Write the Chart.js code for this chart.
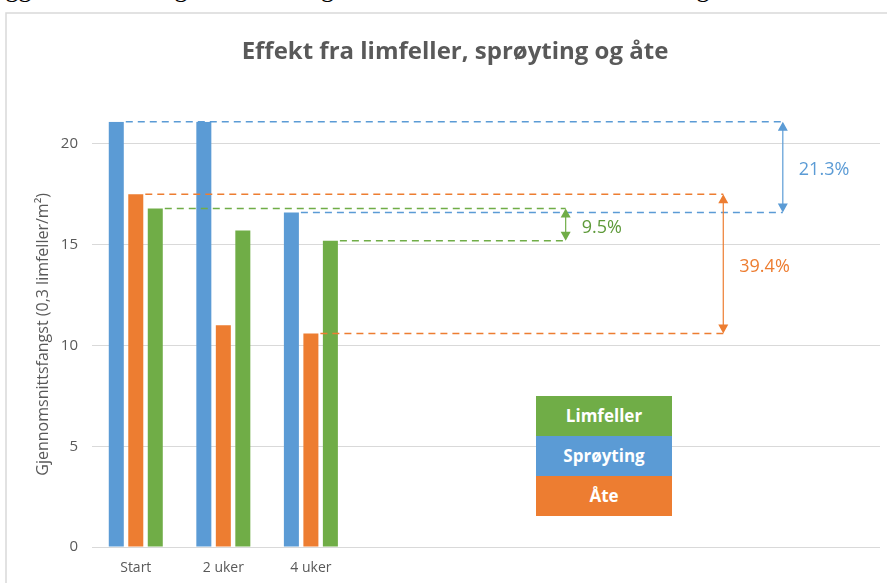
<!DOCTYPE html>
<html>
<head>
<meta charset="utf-8">
<script src="https://cdn.jsdelivr.net/npm/chart.js@4.4.0/dist/chart.umd.min.js"></script>
<style>
  html, body { margin: 0; padding: 0; background: #fff; overflow: hidden; }
  #page { width: 887px; height: 583px; position: relative; overflow: hidden; }
  #above { position: absolute; left: 0; top: 0; width: 887px; height: 10px; overflow: hidden; }
  #above span { position: absolute; left: -6px; top: -26px; font: 26px "Liberation Serif", serif; white-space: nowrap; color: #000; }
  #wrap { position: absolute; left: 0; top: 0; width: 887px; height: 583px; }
  #key { position: absolute; left: 536px; top: 396px; width: 136px; }
  #key div { height: 40px; text-align: center; color: #fff; font: bold 17px "Open Sans", sans-serif; line-height: 40px; }
</style>
</head>
<body>
<div id="page">
<div id="above"><span>egg er det mer begrensede muligheter for å ha kontroll med teknologisk</span></div>
<div id="wrap"><canvas id="chart" width="887" height="583"></canvas></div>
<div id="key">
  <div style="background:#70AD47">Limfeller</div>
  <div style="background:#5B9BD5">Sprøyting</div>
  <div style="background:#ED7D31">Åte</div>
</div>
</div>
<script>
// categories (the empty ones keep the plot wide like in the original)
const categories = ['Start', '2 uker', '4 uker', '', '', '', '', '', ''];

// mean catch per series
const sproyting = [21.1, 21.1, 16.6];
const aate = [17.5, 11.0, 10.6];
const limfeller = [16.8, 15.7, 15.2];

const yTicks = [0, 5, 10, 15, 20];

// reduction start -> 4 uker, per dataset index: arrow position in category units, label
const arrowAt = [7.39, 6.71, 4.91];
const arrowLabels = ['21.3%', '39.4%', '9.5%'];

const colors = ['#5B9BD5', '#ED7D31', '#70AD47'];
const labelColors = ['#5B9BD5', '#ED7D31', '#5E9A3A'];

// outer chart border (only left and top are inside the picture)
const framePlugin = {
  id: 'frame',
  beforeDraw(chart) {
    const ctx = chart.ctx;
    ctx.save();
    ctx.strokeStyle = '#d9d9d9';
    ctx.lineWidth = 1.5;
    ctx.beginPath();
    ctx.moveTo(6, chart.height);
    ctx.lineTo(6, 13);
    ctx.lineTo(chart.width, 13);
    ctx.stroke();
    ctx.restore();
  }
};

// dashed guide lines + double arrows
const reductionPlugin = {
  id: 'reduction',
  afterDatasetsDraw(chart) {
    const ctx = chart.ctx;
    const x = chart.scales.x, y = chart.scales.y;
    chart.data.datasets.forEach((ds, i) => {
      const meta = chart.getDatasetMeta(i);
      const ax = x.getPixelForValue(arrowAt[i]);
      const y1 = y.getPixelForValue(ds.data[0]);
      const y2 = y.getPixelForValue(ds.data[2]);
      const b1 = meta.data[0], b2 = meta.data[2];

      ctx.save();
      ctx.strokeStyle = colors[i];
      ctx.lineWidth = 1.5;
      ctx.setLineDash([7, 5]);
      ctx.beginPath();
      ctx.moveTo(b1.x + b1.width / 2 + 2, y1);
      ctx.lineTo(ax, y1);
      ctx.moveTo(b2.x + b2.width / 2 + 2, y2);
      ctx.lineTo(ax, y2);
      ctx.stroke();

      // arrow
      ctx.setLineDash([]);
      ctx.lineWidth = 1.2;
      ctx.beginPath();
      ctx.moveTo(ax, y1 + 8);
      ctx.lineTo(ax, y2 - 8);
      ctx.stroke();
      ctx.fillStyle = colors[i];
      ctx.beginPath();
      ctx.moveTo(ax, y1);
      ctx.lineTo(ax - 5, y1 + 9);
      ctx.lineTo(ax + 5, y1 + 9);
      ctx.closePath();
      ctx.moveTo(ax, y2);
      ctx.lineTo(ax - 5, y2 - 9);
      ctx.lineTo(ax + 5, y2 - 9);
      ctx.closePath();
      ctx.fill();

      ctx.font = '18px "Open Sans", sans-serif';
      ctx.fillStyle = labelColors[i];
      ctx.textBaseline = 'middle';
      ctx.fillText(arrowLabels[i], ax + 16, (y1 + y2) / 2 + 3);
      ctx.restore();
    });
  }
};

new Chart(document.getElementById('chart'), {
  type: 'bar',
  data: {
    labels: categories,
    datasets: [
      { label: 'Sprøyting', data: sproyting, backgroundColor: colors[0] },
      { label: 'Åte', data: aate, backgroundColor: colors[1] },
      { label: 'Limfeller', data: limfeller, backgroundColor: colors[2] }
    ]
  },
  options: {
    responsive: false,
    animation: false,
    categoryPercentage: 0.668,
    barPercentage: 0.77,
    layout: { padding: { left: 30, right: 7, top: 0, bottom: 0 } },
    plugins: {
      legend: { display: false },
      tooltip: { enabled: false },
      title: {
        display: true,
        text: 'Effekt fra limfeller, sprøyting og åte',
        color: '#595959',
        font: { family: 'Open Sans', size: 24, weight: 'bold' },
        padding: { top: 38, bottom: 55 }
      }
    },
    scales: {
      x: {
        grid: { display: false, drawTicks: false },
        border: { display: false },
        ticks: { color: '#595959', font: { family: 'Open Sans', size: 14 }, padding: 13, autoSkip: false, maxRotation: 0 },
        afterFit(s) { s.height = 36; }
      },
      y: {
        min: 0,
        max: 21.1,
        grid: { color: '#d9d9d9', lineWidth: 1, drawTicks: false },
        border: { display: false },
        ticks: {
          stepSize: 5,
          includeBounds: false,
          padding: 14,
          color: '#595959',
          font: { family: 'Open Sans', size: 15 }
        },
        afterBuildTicks(s) { s.ticks = yTicks.map(v => ({ value: v })); },
        title: {
          display: true,
          text: 'Gjennomsnittsfangst (0,3 limfeller/m²)',
          color: '#595959',
          font: { family: 'Open Sans', size: 16 }
        },
        afterFit(s) { s.width = 62; }
      }
    }
  },
  plugins: [framePlugin, reductionPlugin]
});
</script>
</body>
</html>
